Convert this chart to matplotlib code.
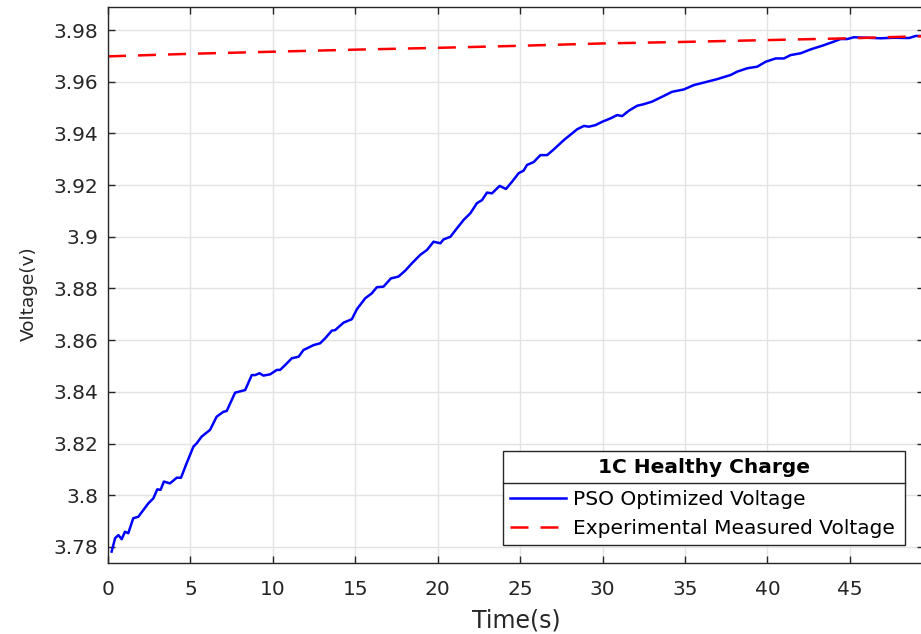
import matplotlib
matplotlib.use("Agg")
import matplotlib.pyplot as plt
from matplotlib.lines import Line2D

plt.rcParams["font.family"] = ["DejaVu Sans"]

# PSO optimized voltage trace
time_pso = [0.22, 0.43, 0.63, 0.83, 1.03, 1.23, 1.53, 1.84, 2.45, 2.75, 2.99, 3.19,
            3.39, 3.76, 4.17, 4.43, 4.77, 5.18, 5.38, 5.68, 6.19, 6.59, 7.0, 7.2,
            7.71, 8.32, 8.72, 8.93, 9.19, 9.43, 9.84, 10.24, 10.44, 10.75, 11.15,
            11.56, 11.86, 12.47, 12.87, 13.17, 13.58, 13.78, 14.29, 14.79, 15.1,
            15.6, 16.0, 16.31, 16.71, 17.16, 17.62, 18.03, 18.43, 18.94, 19.35,
            19.75, 20.16, 20.36, 20.77, 21.17, 21.57, 21.98, 22.38, 22.69, 22.99,
            23.29, 23.76, 24.14, 24.51, 24.91, 25.21, 25.42, 25.82, 26.23, 26.64,
            27.04, 27.65, 28.46, 28.87, 29.17, 29.57, 29.98, 30.48, 30.89, 31.19,
            31.6, 32.1, 32.5, 33.01, 33.62, 34.22, 34.93, 35.54, 36.35, 36.96,
            37.77, 38.17, 38.78, 39.38, 39.89, 40.5, 41.0, 41.41, 42.02, 42.62,
            43.32, 44.03, 44.44, 44.84, 45.25, 46.05, 46.87, 47.68, 48.59, 49.0,
            49.4]
volt_pso = [3.7782, 3.7834, 3.7846, 3.7830, 3.7859, 3.7853, 3.7911, 3.7917, 3.7969,
            3.7988, 3.8023, 3.8021, 3.8053, 3.8046, 3.8068, 3.8068, 3.8124, 3.8188,
            3.8201, 3.8227, 3.8253, 3.8304, 3.8323, 3.8326, 3.8397, 3.8407, 3.8465,
            3.8465, 3.8472, 3.8463, 3.8468, 3.8485, 3.8485, 3.8504, 3.8530, 3.8536,
            3.8562, 3.8581, 3.8588, 3.8607, 3.8637, 3.8639, 3.8668, 3.8681, 3.8720,
            3.8762, 3.8781, 3.8805, 3.8807, 3.8839, 3.8846, 3.8869, 3.8897, 3.8930,
            3.8949, 3.8981, 3.8975, 3.8990, 3.9000, 3.9033, 3.9065, 3.9091, 3.9130,
            3.9142, 3.9171, 3.9168, 3.9197, 3.9185, 3.9213, 3.9246, 3.9256, 3.9278,
            3.9289, 3.9316, 3.9316, 3.9338, 3.9374, 3.9416, 3.9429, 3.9426, 3.9432,
            3.9445, 3.9458, 3.9471, 3.9467, 3.9488, 3.9507, 3.9513, 3.9523, 3.9542,
            3.9561, 3.9570, 3.9587, 3.9600, 3.9610, 3.9626, 3.9639, 3.9652, 3.9658,
            3.9677, 3.9690, 3.9690, 3.9703, 3.9710, 3.9725, 3.9739, 3.9755, 3.9765,
            3.9765, 3.9772, 3.9770, 3.9768, 3.9770, 3.9769, 3.9777, 3.9777]

# Experimental measured voltage
time_exp = [0, 5, 10, 15, 20, 25, 30, 35, 40, 45, 49.4]
volt_exp = [3.9698, 3.9708, 3.9716, 3.9724, 3.9731, 3.9739, 3.9748, 3.9754, 3.9761,
            3.9768, 3.9776]

x_ticks = [0, 5, 10, 15, 20, 25, 30, 35, 40, 45]
y_ticks = [3.78, 3.80, 3.82, 3.84, 3.86, 3.88, 3.90, 3.92, 3.94, 3.96, 3.98]
y_tick_labels = ["3.78", "3.8", "3.82", "3.84", "3.86", "3.88", "3.9", "3.92",
                 "3.94", "3.96", "3.98"]

INK = "#262626"
W, H = 921, 634
fig = plt.figure(figsize=(W / 100, H / 100), dpi=100)
ax = fig.add_axes([108 / W, (H - 563) / H, 816 / W, 556 / H])

ax.plot(time_pso, volt_pso, color=(0, 0, 1), lw=1.8, label="PSO Optimized Voltage")
ax.plot(time_exp, volt_exp, color=(1, 0, 0), lw=1.8, dashes=(7.2, 4.8),
        label="Experimental Measured Voltage")

ax.set_xlim(0, 49.5)
ax.set_ylim(3.7738, 3.9889)
ax.set_xticks(x_ticks)
ax.set_yticks(y_ticks)
ax.set_yticklabels(y_tick_labels)

ax.grid(True, color="#e3e3e3", lw=1.0)
ax.set_axisbelow(True)
ax.tick_params(direction="in", top=True, right=True, length=5, width=1,
               colors=INK, labelsize=14.5)
ax.tick_params(axis="x", pad=12)
ax.tick_params(axis="y", pad=7)
for s in ax.spines.values():
    s.set_color(INK)
    s.set_linewidth(1.0)

ax.set_xlabel("Time(s)", fontsize=17, color=INK, labelpad=7)
ax.set_ylabel("Voltage(v)", fontsize=13.3, color=INK)
ax.yaxis.set_label_coords(-0.086, 0.485)

leg = ax.legend(loc="upper left",
                bbox_to_anchor=(503 / W, (H - 543) / H, 402 / W, 92 / H),
                bbox_transform=fig.transFigure, mode="expand", borderaxespad=0,
                title="1C Healthy Charge", fontsize=14.5,
                title_fontproperties={"weight": "bold", "size": 14.5},
                fancybox=False, framealpha=1, edgecolor=INK,
                handlelength=2.8, handletextpad=0.34, labelspacing=0.5,
                borderpad=0.35)
leg.get_frame().set_linewidth(1.0)
leg._legend_box.sep = 9

# separator between the legend title and its entries
fig.canvas.draw()
r = fig.canvas.get_renderer()
tb = leg.get_title().get_window_extent(r)
hb = leg._legend_handle_box.get_window_extent(r)
fb = leg.get_frame().get_window_extent(r)
ysep = 0.5 * (tb.y0 + hb.y1)
fig.add_artist(Line2D([fb.x0, fb.x1], [ysep, ysep], transform=None,
                      color=INK, lw=1.0))

fig.savefig("out.png", dpi=100)
